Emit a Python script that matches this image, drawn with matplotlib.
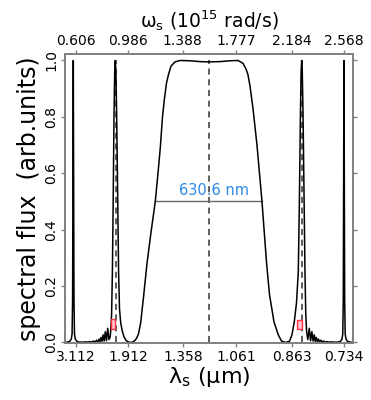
import numpy as np
import matplotlib
matplotlib.use('Agg')
import matplotlib.pyplot as plt
from matplotlib.patches import Rectangle

plt.rcParams['font.family'] = 'DejaVu Sans'
plt.rcParams['mathtext.fontset'] = 'dejavusans'

# frequency axis (1e15 rad/s) and matching wavelength labels (um)
omega_ticks = [0.606, 0.986, 1.388, 1.777, 2.184, 2.568]
lambda_labels = ['3.112', '1.912', '1.358', '1.061', '0.863', '0.734']
y_ticks = [0.0, 0.2, 0.4, 0.6, 0.8, 1.0]

# spectrum: omega (1e15 rad/s), flux (arb. units)
omega = [0.5255,
         0.5423, 0.5606, 0.5716, 0.5774, 0.5811, 0.5836, 0.5862, 0.5888, 0.5913, 0.5950, 0.6008, 0.6118, 0.6301,
         0.6572, 0.6792, 0.6938, 0.7085, 0.7217, 0.7341, 0.7466, 0.7568, 0.7663, 0.7751, 0.7824, 0.7897,
         0.7971, 0.8044, 0.8124, 0.8205, 0.8293, 0.8381, 0.8476, 0.8564, 0.8615, 0.8666, 0.8725, 0.8783,
         0.8842, 0.8893, 0.8937, 0.8981, 0.9040, 0.9113, 0.9179, 0.9244, 0.9332, 0.9449, 0.9589, 0.9742,
         0.9903, 1.0123, 1.0306, 1.0489, 1.0635, 1.0796, 1.1001, 1.1258, 1.1550, 1.1865, 1.2063, 1.2231,
         1.2392, 1.2524, 1.2685, 1.2831, 1.3015, 1.3307, 1.3673, 1.4405, 1.5138, 1.5796, 1.6602, 1.7334,
         1.7919, 1.8285, 1.8505, 1.8651, 1.8798, 1.9018, 1.9310, 1.9676, 2.0006, 2.0226, 2.0555, 2.0870,
         2.1104, 2.1397, 2.1690, 2.1873, 2.2041, 2.2202, 2.2334, 2.2415, 2.2488, 2.2539, 2.2583, 2.2627,
         2.2685, 2.2758, 2.2824, 2.2883, 2.2942, 2.3029, 2.3139, 2.3234, 2.3329, 2.3417, 2.3498, 2.3571,
         2.3652, 2.3725, 2.3805, 2.3886, 2.3981, 2.4083, 2.4186, 2.4303, 2.4434, 2.4581, 2.4727, 2.4947,
         2.5240, 2.5423, 2.5533, 2.5591, 2.5628, 2.5653, 2.5679, 2.5705, 2.5730, 2.5767, 2.5825, 2.5935, 2.6118,
         2.6340]
flux = [0.0,
        0.001, 0.004, 0.012, 0.03, 0.15, 0.6, 1.0, 0.6, 0.15, 0.03, 0.012, 0.004, 0.001,
        0.001, 0.002, 0.001, 0.003, 0.001, 0.005, 0.001, 0.008, 0.002, 0.012, 0.003, 0.018,
        0.004, 0.027, 0.005, 0.038, 0.006, 0.05, 0.01, 0.02, 0.05, 0.1, 0.25, 0.5,
        0.8, 0.96, 1.0, 0.96, 0.8, 0.5, 0.25, 0.12, 0.07, 0.04, 0.018, 0.006,
        0.001, 0.0, 0.004, 0.014, 0.03, 0.07, 0.16, 0.28, 0.39, 0.5, 0.6, 0.69,
        0.8, 0.86, 0.92, 0.95, 0.98, 0.995, 1.0, 0.999, 0.996, 0.995, 0.996, 0.999,
        1.0, 0.99, 0.97, 0.95, 0.91, 0.83, 0.70, 0.5, 0.285, 0.17, 0.073, 0.027,
        0.005, 0.0, 0.004, 0.027, 0.073, 0.14, 0.25, 0.5, 0.8, 0.96, 1.0, 0.96,
        0.8, 0.5, 0.25, 0.1, 0.04, 0.01, 0.05, 0.006, 0.038, 0.005, 0.027, 0.004,
        0.018, 0.003, 0.012, 0.002, 0.008, 0.001, 0.005, 0.001, 0.003, 0.001, 0.002, 0.001,
        0.001, 0.004, 0.012, 0.03, 0.15, 0.6, 1.0, 0.6, 0.15, 0.03, 0.012, 0.004, 0.001,
        0.0]

# dashed markers, FWHM bar, and small red boxes
dash_omega = [0.901, 1.582, 2.258]
fwhm_omega = [1.1865, 1.9676]
fwhm_level = 0.5
fwhm_text = '630.6 nm'
box_omega = [0.8769, 2.2420]
box_flux = [0.0656, 0.0638]
box_w = 0.036
box_h = 0.034

xlim = (0.5255, 2.634)
ylim = (-0.002, 1.023)

fig = plt.figure(figsize=(3.71, 4.0), dpi=100)
ax = fig.add_axes([65/371, 1-343/400, (353-65)/371, (343-54)/400])

ax.plot(omega, flux, color='black', lw=1.1, zorder=3)
for w in dash_omega:
    ax.plot([w, w], [0, 1.0], color='#333333', lw=1.1, ls=(0, (4, 3)), zorder=2)
ax.plot(fwhm_omega, [fwhm_level, fwhm_level], color='#666666', lw=1.0, zorder=2)
ax.text(np.mean(fwhm_omega) + 0.04, fwhm_level + 0.012, fwhm_text, color='#2a8be8',
        fontsize=10.5, ha='center', va='bottom', zorder=4)
for w, f in zip(box_omega, box_flux):
    ax.add_patch(Rectangle((w - box_w/2, f - box_h/2), box_w, box_h,
                           facecolor='#ffc4d2', edgecolor='#ff3040', lw=1.0, zorder=5))

ax.set_xlim(xlim)
ax.set_ylim(ylim)
ax.set_xticks(omega_ticks)
ax.set_xticklabels(lambda_labels, fontsize=10)
ax.set_yticks(y_ticks)
ax.set_yticklabels(['%.1f' % v for v in y_ticks], fontsize=10, rotation=90, va='center')
ax.tick_params(axis='both', direction='out', length=3, width=1, color='#808080', pad=2)
ax.tick_params(axis='y', right=True)
ax.set_xlabel(r'$\mathrm{\lambda_s}$ ($\mathrm{\mu}$m)', fontsize=16, labelpad=1)
ax.set_ylabel('spectral flux  (arb.units)', fontsize=17, labelpad=2)

ax2 = ax.twiny()
ax2.set_xlim(xlim)
ax2.set_xticks(omega_ticks)
ax2.set_xticklabels(['%.3f' % v for v in omega_ticks], fontsize=10)
ax2.tick_params(axis='x', direction='out', length=3, width=1, color='#808080', pad=1)
ax2.set_xlabel(r'$\mathrm{\omega_s}$ ($10^{15}$ rad/s)', fontsize=13.5, labelpad=5)

for a in (ax, ax2):
    for s in a.spines.values():
        s.set_color('#808080')
        s.set_linewidth(1.2)

fig.savefig('out.png', dpi=100)
